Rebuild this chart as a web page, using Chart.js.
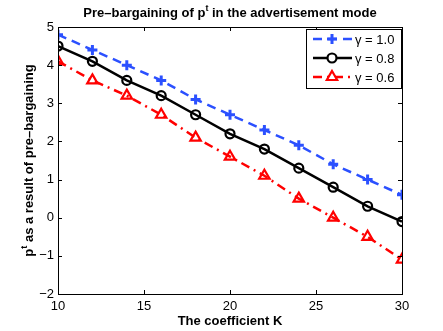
<!DOCTYPE html>
<html><head><meta charset="utf-8">
<script src="https://cdn.jsdelivr.net/npm/chart.js@4/dist/chart.umd.min.js"></script>
<style>html,body{margin:0;padding:0;background:#fff}#wrap{width:443px;height:331px}</style>
</head><body><div id="wrap"><canvas id="c" width="443" height="331"></canvas></div>
<script>
const kValues = [10,12,14,16,18,20,22,24,26,28,30];
const gamma10 = [4.8,4.4,4.0,3.6,3.1,2.7,2.3,1.9,1.4,1.0,0.6];
const gamma08 = [4.5,4.1,3.6,3.2,2.7,2.2,1.8,1.3,0.8,0.3,-0.1];
const gamma06 = [4.1,3.6,3.2,2.7,2.1,1.6,1.1,0.5,0.0,-0.5,-1.1];
const seriesLabels = ['\u03b3 = 1.0','\u03b3 = 0.8','\u03b3 = 0.6'];
const xTicks = [10,15,20,25,30];
const yTicks = [-2,-1,0,1,2,3,4,5];
const titleText = 'Pre\u2013bargaining of p';
const titleText2 = ' in the advertisement mode';
const xTitle = 'The coefficient K';
const yTitle1 = 'p';
const yTitle2 = ' as a result of pre\u2013bargaining';

const FONT = 'Liberation Sans, Arial, Helvetica, sans-serif';
const mk = (arr)=>kValues.map((k,i)=>({x:k,y:arr[i]}));

const datasets = [
 {label:seriesLabels[0], data:mk(gamma10), borderColor:'#2b50ff', backgroundColor:'#2b50ff', borderWidth:2.5, borderDash:[9,6], pointStyle:'cross', pointRadius:5, pointBorderWidth:3, pointBorderColor:'#2b50ff'},
 {label:seriesLabels[1], data:mk(gamma08), borderColor:'#000', backgroundColor:'rgba(0,0,0,0)', borderWidth:2.5, borderDash:[], pointStyle:'circle', pointRadius:4.5, pointBorderWidth:2.2, pointBorderColor:'#000'},
 {label:seriesLabels[2], data:mk(gamma06), borderColor:'#ff0000', backgroundColor:'rgba(0,0,0,0)', borderWidth:2.5, borderDash:[9,5,2,5], pointStyle:'triangle', pointRadius:6, pointBorderWidth:2.2, pointBorderColor:'#ff0000'}
];

const frame = {
 id:'frame',
 afterDraw(chart){
  const ctx = chart.ctx, a = chart.chartArea, xs = chart.scales.x, ys = chart.scales.y;
  ctx.save();
  ctx.strokeStyle='#000'; ctx.lineWidth=1; ctx.setLineDash([]);
  ctx.strokeRect(Math.round(a.left)+0.5, Math.round(a.top)+0.5, Math.round(a.right-a.left), Math.round(a.bottom-a.top));
  const L=4;
  xTicks.forEach(v=>{const px=Math.round(xs.getPixelForValue(v))+0.5;
   ctx.beginPath();ctx.moveTo(px,a.bottom);ctx.lineTo(px,a.bottom-L);ctx.moveTo(px,a.top);ctx.lineTo(px,a.top+L);ctx.stroke();});
  yTicks.forEach(v=>{const py=Math.round(ys.getPixelForValue(v))+0.5;
   ctx.beginPath();ctx.moveTo(a.left,py);ctx.lineTo(a.left+L,py);ctx.moveTo(a.right,py);ctx.lineTo(a.right-L,py);ctx.stroke();});
  const MAIN='bold 13px '+FONT, SUP='bold 9px '+FONT;
  // Title
  ctx.fillStyle='#000';
  ctx.font=MAIN; ctx.textBaseline='alphabetic';
  const w1=ctx.measureText(titleText).width, w3=ctx.measureText(titleText2).width;
  ctx.font=SUP; const w2=ctx.measureText('t').width;
  const total=w1+w2+w3; const cx=(a.left+a.right)/2; let x0=cx-total/2; const by=17;
  ctx.font=MAIN; ctx.textAlign='left'; ctx.fillText(titleText,x0,by);
  ctx.font=SUP; ctx.fillText('t',x0+w1,by-6);
  ctx.font=MAIN; ctx.fillText(titleText2,x0+w1+w2,by);
  // X title
  ctx.textAlign='center'; ctx.fillText(xTitle,cx,325);
  // Y title
  ctx.save();
  ctx.translate(33,(a.top+a.bottom)/2); ctx.rotate(-Math.PI/2);
  ctx.font=MAIN;
  const y1=ctx.measureText(yTitle1).width, y3=ctx.measureText(yTitle2).width;
  ctx.font=SUP; const y2=ctx.measureText('t').width;
  let s=-(y1+y2+y3)/2; ctx.textAlign='left';
  ctx.font=MAIN; ctx.fillText(yTitle1,s,0);
  ctx.font=SUP; ctx.fillText('t',s+y1,-6);
  ctx.font=MAIN; ctx.fillText(yTitle2,s+y1+y2,0);
  ctx.restore();
  // Legend
  const lx=306, ly=29, lw=95, lh=59;
  ctx.fillStyle='#fff'; ctx.fillRect(lx,ly,lw,lh);
  ctx.strokeStyle='#000'; ctx.lineWidth=1; ctx.strokeRect(lx+0.5,ly+0.5,lw,lh);
  chart.data.datasets.forEach((ds,i)=>{
   const ry=39+i*19;
   ctx.strokeStyle=ds.borderColor; ctx.lineWidth=ds.borderWidth; ctx.setLineDash(ds.borderDash||[]);
   ctx.beginPath(); ctx.moveTo(313,ry); ctx.lineTo(352,ry); ctx.stroke();
   ctx.setLineDash([]);
   ctx.fillStyle='#fff';
   ctx.strokeStyle=ds.pointBorderColor; ctx.lineWidth=ds.pointBorderWidth;
   Chart.helpers.drawPoint(ctx,{pointStyle:ds.pointStyle,radius:ds.pointRadius,rotation:0,borderWidth:ds.pointBorderWidth},332,ry);
   ctx.fillStyle='#000'; ctx.font='13px '+FONT; ctx.textAlign='left'; ctx.textBaseline='middle';
   ctx.fillText(ds.label,355,ry+1);
  });
  ctx.restore();
 }
};

new Chart(document.getElementById('c'),{
 type:'line',
 data:{datasets},
 options:{
  responsive:false, animation:false, devicePixelRatio:1,
  layout:{padding:{left:0,right:41,top:27,bottom:0}},
  plugins:{legend:{display:false},title:{display:false},tooltip:{enabled:false}},
  elements:{line:{tension:0,fill:false}},
  scales:{
   x:{type:'linear',min:10,max:30,
      afterBuildTicks(s){s.ticks=xTicks.map(v=>({value:v}));},
      afterFit(s){s.height=37;},
      grid:{display:false,drawTicks:false}, border:{display:false},
      ticks:{color:'#000',font:{family:FONT,size:13},padding:5,maxRotation:0}},
   y:{type:'linear',min:-2,max:5,
      afterBuildTicks(s){s.ticks=yTicks.map(v=>({value:v}));},
      afterFit(s){s.width=58;},
      grid:{display:false,drawTicks:false}, border:{display:false},
      ticks:{color:'#000',font:{family:FONT,size:13},padding:4,
        callback:(v)=>String(v).replace('-','\u2212')}}
  }
 },
 plugins:[frame]
});
</script></body></html>
